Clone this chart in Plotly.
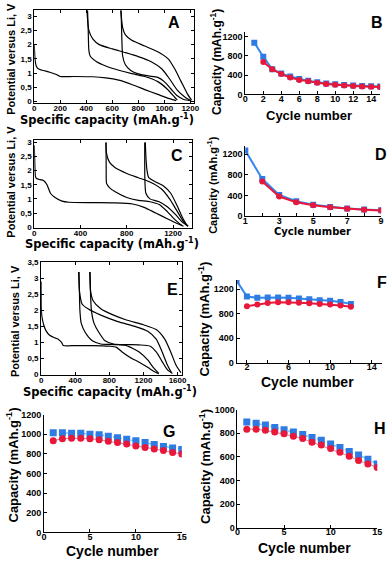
import plotly.graph_objects as go

W, H = 392, 565

# ---------------- voltage profiles (A, C, E) ----------------
a_d1_x = [0, 3, 8, 15, 30, 60, 120, 170, 200, 300, 450, 550, 650, 750, 850, 950, 1040, 1090]
a_d1_v = [2.0, 1.7, 1.4, 1.25, 1.15, 1.1, 1.03, 0.95, 0.88, 0.88, 0.87, 0.83, 0.75, 0.6, 0.42, 0.25, 0.1, 0.03]
a_c1_x = [405, 420, 450, 500, 600, 700, 800, 900, 980, 1040, 1100, 1160, 1200]
a_c1_v = [3.2, 2.5, 2.2, 2.0, 1.85, 1.72, 1.58, 1.4, 1.15, 0.8, 0.4, 0.15, 0.04]
a_d2_x = [410, 415, 420, 430, 480, 550, 650, 750, 850, 950, 1020, 1080, 1100]
a_d2_v = [3.2, 2.5, 1.8, 1.6, 1.4, 1.25, 1.1, 0.98, 0.88, 0.7, 0.45, 0.15, 0.05]
a_c2_x = [665, 680, 700, 750, 850, 950, 1030, 1080, 1130, 1180, 1210]
a_c2_v = [3.2, 2.6, 2.35, 2.15, 1.95, 1.75, 1.5, 1.15, 0.7, 0.25, 0.05]
a_d3_x = [668, 672, 675, 680, 700, 740, 800, 880, 950, 1000, 1050, 1100, 1150, 1200]
a_d3_v = [3.2, 2.5, 2.0, 1.6, 1.3, 1.1, 0.97, 0.9, 0.85, 0.7, 0.45, 0.2, 0.07, 0.03]

c_d1_x = [0, 5, 10, 20, 50, 80, 110, 140, 180, 240, 300, 500, 700, 850, 950, 1050, 1150, 1250, 1290]
c_d1_v = [2.9, 2.2, 1.8, 1.72, 1.68, 1.65, 1.5, 1.2, 1.05, 0.92, 0.88, 0.87, 0.86, 0.82, 0.7, 0.5, 0.3, 0.1, 0.03]
c_c1_x = [620, 625, 650, 700, 800, 900, 1000, 1100, 1170, 1230, 1290, 1330]
c_c1_v = [3.0, 2.6, 2.3, 2.1, 1.9, 1.75, 1.6, 1.35, 1.0, 0.6, 0.2, 0.03]
c_d2_x = [620, 622, 625, 650, 700, 800, 900, 1000, 1080, 1150, 1220, 1280]
c_d2_v = [3.0, 2.0, 1.55, 1.4, 1.25, 1.05, 0.95, 0.9, 0.8, 0.55, 0.25, 0.05]
c_c2_x = [960, 965, 975, 990, 1050, 1120, 1180, 1230, 1280, 1320]
c_c2_v = [3.0, 2.5, 2.0, 1.75, 1.6, 1.45, 1.2, 0.8, 0.35, 0.05]
c_d3_x = [955, 955, 957, 965, 1000, 1080, 1150, 1220, 1280, 1330]
c_d3_v = [3.0, 2.0, 1.6, 1.2, 1.0, 0.9, 0.72, 0.45, 0.18, 0.03]

e_d1_x = [0, 3, 10, 30, 60, 100, 150, 200, 240, 260, 400, 600, 800, 880, 950, 1050, 1150, 1250, 1320, 1380]
e_d1_v = [2.9, 2.0, 1.8, 1.55, 1.35, 1.22, 1.15, 1.1, 1.0, 0.9, 0.9, 0.9, 0.88, 0.85, 0.7, 0.52, 0.38, 0.22, 0.1, 0.02]
e_c1_x = [440, 450, 480, 550, 700, 900, 1100, 1250, 1350, 1420, 1480, 1530]
e_c1_v = [3.2, 2.6, 2.2, 2.05, 1.85, 1.65, 1.5, 1.35, 1.1, 0.7, 0.3, 0.05]
e_d2_x = [445, 450, 455, 470, 520, 600, 700, 850, 1000, 1150, 1250, 1320, 1380]
e_d2_v = [3.2, 2.5, 2.0, 1.6, 1.3, 1.05, 0.95, 0.93, 0.9, 0.7, 0.45, 0.2, 0.03]
e_c2_x = [570, 580, 610, 700, 850, 1000, 1200, 1350, 1450, 1520, 1580, 1640]
e_c2_v = [3.2, 2.6, 2.3, 2.05, 1.85, 1.7, 1.55, 1.4, 1.1, 0.7, 0.3, 0.05]
e_d3_x = [575, 580, 590, 620, 680, 750, 850, 1000, 1150, 1280, 1350, 1420, 1480, 1540]
e_d3_v = [3.2, 2.5, 2.0, 1.6, 1.3, 1.05, 0.95, 0.93, 0.92, 0.88, 0.7, 0.4, 0.15, 0.03]

# ---------------- cycling data (B, D, F, G, H) ----------------
b_cyc = list(range(1, 16))
b_blue = [1070, 780, 520, 430, 370, 320, 280, 250, 225, 210, 195, 185, 175, 170, 165]
b_red_cyc = list(range(2, 16))
b_red = [670, 520, 420, 350, 300, 270, 240, 215, 200, 185, 175, 165, 160, 155]

d_cyc = list(range(1, 10))
d_blue = [1270, 720, 410, 290, 220, 180, 150, 130, 115]
d_red_cyc = list(range(2, 10))
d_red = [670, 380, 270, 210, 175, 145, 125, 110]

f_cyc = list(range(1, 13))
f_blue = [1340, 1080, 1060, 1065, 1065, 1060, 1050, 1035, 1020, 1010, 990, 960]
f_red_cyc = list(range(2, 13))
f_red = [920, 950, 975, 985, 985, 980, 970, 960, 950, 935, 915]

g_cyc = list(range(1, 16))
g_blue = [1015, 1015, 1010, 1010, 1000, 995, 980, 965, 950, 935, 915, 895, 875, 860, 845]
g_red = [935, 955, 960, 960, 955, 945, 930, 915, 900, 880, 865, 850, 835, 815, 800]

h_cyc = list(range(1, 16))
h_blue = [895, 885, 870, 850, 830, 810, 790, 765, 740, 710, 680, 645, 615, 580, 540]
h_red = [835, 835, 825, 810, 795, 775, 755, 725, 700, 670, 640, 605, 570, 540, 510]

v_ticks = [0, 0.5, 1, 1.5, 2, 2.5, 3]
v_text = ["0", "0,5", "1", "1,5", "2", "2,5", "3"]
e_ticks = [0, 0.5, 1, 1.5, 2, 2.5, 3, 3.5]
e_text = ["0", "0,5", "1", "1,5", "2", "2,5", "3", "3,5"]

BLUE = "#2e7be3"
RED = "#e8183a"


def xd(a, b):
    return [a / W, b / W]


def yd(top, bottom):
    return [1 - bottom / H, 1 - top / H]


fig = go.Figure()

volt_sets = [
    ("x", "y", [(a_d1_x, a_d1_v), (a_c1_x, a_c1_v), (a_d2_x, a_d2_v), (a_c2_x, a_c2_v), (a_d3_x, a_d3_v)]),
    ("x3", "y3", [(c_d1_x, c_d1_v), (c_c1_x, c_c1_v), (c_d2_x, c_d2_v), (c_c2_x, c_c2_v), (c_d3_x, c_d3_v)]),
    ("x5", "y5", [(e_d1_x, e_d1_v), (e_c1_x, e_c1_v), (e_d2_x, e_d2_v), (e_c2_x, e_c2_v), (e_d3_x, e_d3_v)]),
]
for xa, ya, curves in volt_sets:
    for cx, cv in curves:
        fig.add_trace(go.Scatter(x=cx, y=cv, mode="lines", xaxis=xa, yaxis=ya,
                                 line=dict(color="black", width=1.2, shape="spline", smoothing=0.6)))


def cap_traces(xa, ya, bx, by, rx, ry, dotted=False):
    if dotted:
        bl = dict(color="#7cc6f2", width=1.5, dash="dot")
        rl = dict(color="#e87a9a", width=1)
        ms = 7
    else:
        bl = dict(color="#3487ee", width=2)
        rl = dict(color=RED, width=2)
        ms = 6
    fig.add_trace(go.Scatter(x=bx, y=by, mode="lines+markers", xaxis=xa, yaxis=ya, line=bl,
                             marker=dict(symbol="square", size=ms, color=BLUE)))
    fig.add_trace(go.Scatter(x=rx, y=ry, mode="lines+markers", xaxis=xa, yaxis=ya, line=rl,
                             marker=dict(symbol="circle", size=ms, color=RED)))


cap_traces("x2", "y2", b_cyc, b_blue, b_red_cyc, b_red)
cap_traces("x4", "y4", d_cyc, d_blue, d_red_cyc, d_red)
cap_traces("x6", "y6", f_cyc, f_blue, f_red_cyc, f_red)
cap_traces("x7", "y7", g_cyc, g_blue, g_cyc, g_red, dotted=True)
cap_traces("x8", "y8", h_cyc, h_blue, h_cyc, h_red, dotted=True)

tick_small = dict(family="Arial", size=8, color="black", weight="bold")
tick_cap = dict(family="Arial", size=9, color="black", weight="bold")

volt_ax = dict(showline=True, linecolor="black", linewidth=1, mirror="ticks", ticks="inside",
               ticklen=3, tickcolor="black", showgrid=False, zeroline=False, tickfont=tick_small)
volt_xax = dict(volt_ax, ticklabelstandoff=-3)
cap_ax = dict(showline=True, linecolor="black", linewidth=1, mirror=False, ticks="inside",
              ticklen=3, tickcolor="black", showgrid=False, zeroline=False, tickfont=tick_cap)
cap_xax = dict(cap_ax, ticklabelstandoff=-4)

fig.update_layout(
    width=W, height=H, margin=dict(l=0, r=0, t=0, b=0),
    paper_bgcolor="white", plot_bgcolor="white", showlegend=False,
    # A
    xaxis=dict(volt_xax, domain=xd(32, 195), range=[0, 1225], tickvals=[0, 200, 400, 600, 800, 1000, 1200], anchor="y"),
    yaxis=dict(volt_ax, domain=yd(5, 100), range=[-0.06, 3.22], tickvals=v_ticks, ticktext=v_text, anchor="x"),
    # B
    xaxis2=dict(cap_xax, domain=xd(248, 386), range=[0, 15], tickvals=[0, 2, 4, 6, 8, 10, 12, 14], anchor="y2"),
    yaxis2=dict(cap_ax, domain=yd(27, 91), range=[0, 1300], tickvals=[0, 400, 800, 1200], anchor="x2"),
    # C
    xaxis3=dict(volt_xax, domain=xd(32, 193), range=[0, 1360], tickvals=[0, 400, 800, 1200], anchor="y3"),
    yaxis3=dict(volt_ax, domain=yd(137, 227), range=[-0.03, 3.1], tickvals=v_ticks, ticktext=v_text, anchor="x3"),
    # D
    xaxis4=dict(cap_xax, domain=xd(248, 387), range=[1, 9], tickvals=[1, 3, 5, 7, 9], anchor="y4",
                minor=dict(tickvals=[2, 4, 6, 8], ticks="inside", ticklen=3, tickcolor="black")),
    yaxis4=dict(cap_ax, domain=yd(144, 215), range=[0, 1350], tickvals=[0, 400, 800, 1200], anchor="x4"),
    # E
    xaxis5=dict(volt_xax, domain=xd(39, 183), range=[0, 1650], tickvals=[0, 400, 800, 1200, 1600], anchor="y5"),
    yaxis5=dict(volt_ax, domain=yd(262, 377), range=[-0.03, 3.5], tickvals=e_ticks, ticktext=e_text, anchor="x5"),
    # F
    xaxis6=dict(cap_xax, domain=xd(239, 388), range=[1, 15], tickvals=[2, 6, 10, 14], anchor="y6",
                minor=dict(tickvals=[4, 8, 12], ticks="inside", ticklen=3, tickcolor="black")),
    yaxis6=dict(cap_ax, domain=yd(280, 364), range=[0, 1350], tickvals=[0, 400, 800, 1200], anchor="x6"),
    # G
    xaxis7=dict(cap_xax, domain=xd(42, 183), range=[0, 15], tickvals=[0, 5, 10, 15], anchor="y7"),
    yaxis7=dict(cap_ax, domain=yd(417, 537), range=[0, 1200], tickvals=[0, 200, 400, 600, 800, 1000, 1200], anchor="x7"),
    # H
    xaxis8=dict(cap_xax, domain=xd(240, 383), range=[0, 15], tickvals=[0, 5, 10, 15], anchor="y8"),
    yaxis8=dict(cap_ax, domain=yd(412, 532), range=[0, 1000], tickvals=[0, 200, 400, 600, 800, 1000], anchor="x8"),
)


def note(text, px, py, size, angle=0, family="Arial"):
    fig.add_annotation(text=text, x=px / W, y=1 - py / H, xref="paper", yref="paper",
                       xanchor="center", yanchor="middle", showarrow=False, textangle=angle,
                       font=dict(family=family, size=size, color="black", weight="bold"))


spec = "Specific capacity (mAh.g<sup>-1</sup>)"
pot = "Potential versus Li, V"
capt = "Capacity (mAh.g<sup>-1</sup>)"

note(spec, 106, 117, 11.5, family="DejaVu Sans")
note(spec, 112, 243, 11.5, family="DejaVu Sans")
note(spec, 110, 393, 11.5, family="DejaVu Sans")
note(pot, 8, 55, 11, angle=-90)
note(pot, 8, 180, 11, angle=-90)
note(pot, 13, 322, 11, angle=-90)

note("Cycle number", 313, 113, 13)
note("Cycle number", 317, 231, 10, family="DejaVu Sans")
note("Cycle number", 312, 384, 14)
note("Cycle number", 112, 556, 14)
note("Cycle number", 309, 553, 14)
note(capt, 218, 58, 12, angle=-90)
note(capt, 214, 183, 11, angle=-90)
note(capt, 206, 320, 13, angle=-90)
note(capt, 9, 468, 13, angle=-90)
note(capt, 206, 470, 13, angle=-90)

for lab, px, py in [("A", 175, 18), ("B", 383, 18), ("C", 178, 153), ("D", 387, 152),
                    ("E", 173, 290), ("F", 388, 283), ("G", 170, 434), ("H", 386, 431)]:
    note(lab, px, py, 16)

fig.write_html("out.html", config={"displayModeBar": False},
               post_script="document.body.style.margin='0';document.body.style.overflow='hidden';")
